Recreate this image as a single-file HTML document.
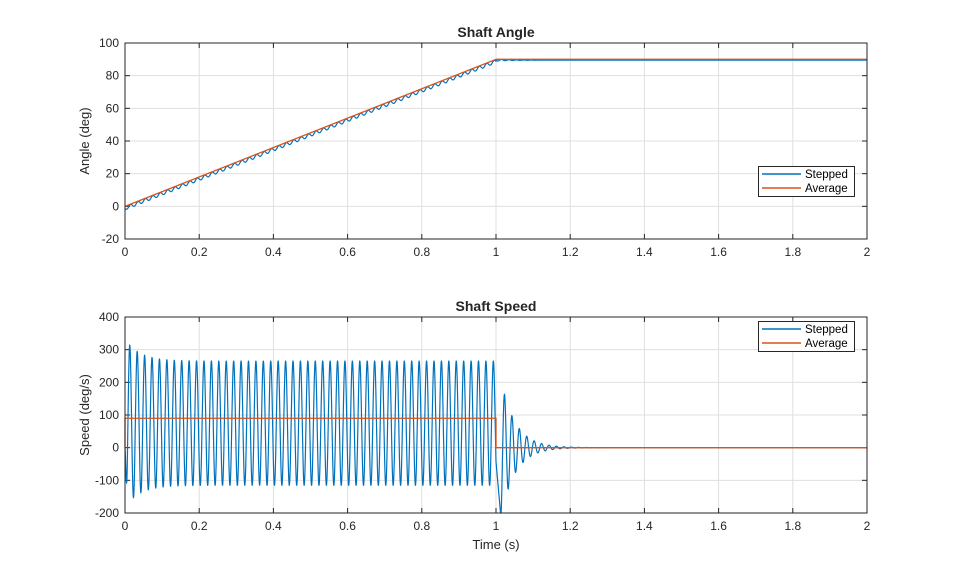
<!DOCTYPE html>
<html><head><meta charset="utf-8"><style>
html,body{margin:0;padding:0;background:#fff;}
svg{display:block;font-family:"Liberation Sans",sans-serif;}
</style></head><body>
<svg id="s" width="959" height="577" viewBox="0 0 959 577" xmlns="http://www.w3.org/2000/svg"></svg>
<script>
const s=document.getElementById('s');
let h='<rect width="959" height="577" fill="#fff"/>';
const X0=125,X1=867,W=X1-X0;
function axes(top,bot,ymin,ymax,ystep,title,ylabel,xlabel){
  const H=bot-top;
  const yp=v=>bot-(v-ymin)*H/(ymax-ymin);
  h+=`<rect x="${X0}" y="${top}" width="${W}" height="${H}" fill="#fff"/>`;
  for(let i=0;i<=10;i++){const x=X0+i*W/10;
    h+=`<line x1="${x}" y1="${top}" x2="${x}" y2="${bot}" stroke="#dfdfdf" stroke-width="1"/>`;
    h+=`<line x1="${x}" y1="${bot}" x2="${x}" y2="${bot-5}" stroke="#262626"/><line x1="${x}" y1="${top}" x2="${x}" y2="${top+5}" stroke="#262626"/>`;
    let lab=(i*0.2).toFixed(1).replace(/\.0$/,'');
    h+=`<text x="${x}" y="${bot+17}" font-size="12" text-anchor="middle" fill="#262626">${lab}</text>`;}
  for(let v=ymin;v<=ymax;v+=ystep){const y=yp(v);
    h+=`<line x1="${X0}" y1="${y}" x2="${X1}" y2="${y}" stroke="#dfdfdf"/>`;
    h+=`<line x1="${X0}" y1="${y}" x2="${X0+5}" y2="${y}" stroke="#262626"/><line x1="${X1}" y1="${y}" x2="${X1-5}" y2="${y}" stroke="#262626"/>`;
    h+=`<text x="${X0-6}" y="${y+4}" font-size="12" text-anchor="end" fill="#262626">${v}</text>`;}
  h+=`<text x="${(X0+X1)/2}" y="${top-6}" font-size="14" font-weight="bold" text-anchor="middle" fill="#262626">${title}</text>`;
  h+=`<text transform="translate(${X0-36},${(top+bot)/2}) rotate(-90)" font-size="13" text-anchor="middle" fill="#262626">${ylabel}</text>`;
  if(xlabel)h+=`<text x="${(X0+X1)/2}" y="${bot+36}" font-size="13" text-anchor="middle" fill="#262626">${xlabel}</text>`;
  return yp;
}
function frame(top,bot){h+=`<rect x="${X0}" y="${top}" width="${W}" height="${bot-top}" fill="none" stroke="#262626" stroke-width="1"/>`;}
function legend(y){
  h+=`<rect x="758.5" y="${y+.5}" width="96" height="30" fill="#fff" stroke="#262626"/>`;
  h+=`<line x1="762" y1="${y+8}" x2="801" y2="${y+8}" stroke="#0072bd" stroke-width="1.5"/>`;
  h+=`<line x1="762" y1="${y+22}" x2="801" y2="${y+22}" stroke="#d95319" stroke-width="1.5"/>`;
  h+=`<text x="805" y="${y+12}" font-size="11.5" fill="#000">Stepped</text>`;
  h+=`<text x="805" y="${y+26}" font-size="11.5" fill="#000">Average</text>`;
}
function speed(t){
  const w=2*Math.PI*50;
  if(t<=1.0){
    let a=190*(1+0.35*Math.exp(-t/0.04));
    let v=75-a*Math.cos(w*t-0.9);
    if(t<0.006) v=v*(t/0.006);
    return Math.max(-200,Math.min(400,v));
  }
  let v=-210*Math.cos(w*(t-1.013))*Math.exp(-(t-1.013)/0.039);
  if(t<1.013){const f=(t-1)/0.013;v=(1-f)*speed(1)+f*(-210);}
  return Math.max(-200,v);
}
const xp=t=>X0+t*W/2;
let yp=axes(43,239,-20,100,20,'Shaft Angle','Angle (deg)');
let p1='',p2='';
for(let i=0;i<=4000;i++){const t=i*2/4000;
  const avg=t<1?90*t:90;
  let st;
  if(t<1)st=avg-1.2-1.0*Math.sin(2*Math.PI*50*t);
  else st=89.5-0.6*Math.sin(2*Math.PI*50*(t-1))*Math.exp(-(t-1)/0.04);
  p1+=(i?'L':'M')+xp(t).toFixed(2)+' '+yp(st).toFixed(2);
  p2+=(i?'L':'M')+xp(t).toFixed(2)+' '+yp(avg).toFixed(2);}
h+=`<path d="${p1}" fill="none" stroke="#0072bd" stroke-width="1.2"/><path d="${p2}" fill="none" stroke="#d95319" stroke-width="1.3"/>`;
frame(43,239);legend(166);
yp=axes(317,513,-200,400,100,'Shaft Speed','Speed (deg/s)','Time (s)');
p1='';
for(let i=0;i<=8000;i++){const t=i*2/8000;
  p1+=(i?'L':'M')+xp(t).toFixed(2)+' '+yp(speed(t)).toFixed(2);}
p2=`M${xp(0)} ${yp(0)}L${xp(0)} ${yp(90)}L${xp(1)} ${yp(90)}L${xp(1)} ${yp(0)}L${xp(2)} ${yp(0)}`;
h+=`<path d="${p1}" fill="none" stroke="#0072bd" stroke-width="1.2"/><path d="${p2}" fill="none" stroke="#d95319" stroke-width="1.3"/>`;
frame(317,513);legend(321);
s.innerHTML=h;
</script>
</body></html>
